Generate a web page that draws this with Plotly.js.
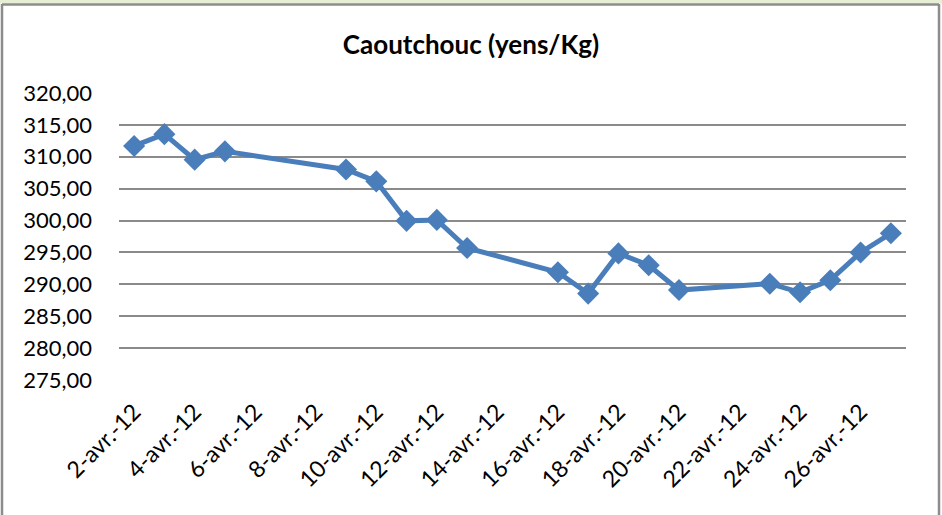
<!DOCTYPE html>
<html>
<head>
<meta charset="utf-8">
<script src="https://cdn.plot.ly/plotly-3.0.1.min.js"></script>
<style>
  html, body { margin: 0; padding: 0; background: #ffffff; }
  #chart { width: 942px; height: 515px; }
</style>
</head>
<body>
<div id="chart"></div>
<script>
// Data
const dates = [
  '2012-04-02', '2012-04-03', '2012-04-04', '2012-04-05',
  '2012-04-09', '2012-04-10', '2012-04-11', '2012-04-12', '2012-04-13',
  '2012-04-16', '2012-04-17', '2012-04-18', '2012-04-19', '2012-04-20',
  '2012-04-23', '2012-04-24', '2012-04-25', '2012-04-26', '2012-04-27'
];
const prices = [
  311.70, 313.55, 309.55, 310.85,
  308.00, 306.15, 299.95, 300.10, 295.70,
  291.90, 288.55, 294.85, 293.00, 289.10,
  290.10, 288.75, 290.65, 295.00, 298.00
];
const xTickVals = [
  '2012-04-02', '2012-04-04', '2012-04-06', '2012-04-08', '2012-04-10',
  '2012-04-12', '2012-04-14', '2012-04-16', '2012-04-18', '2012-04-20',
  '2012-04-22', '2012-04-24', '2012-04-26'
];
const xTickText = [
  '2-avr.-12', '4-avr.-12', '6-avr.-12', '8-avr.-12', '10-avr.-12',
  '12-avr.-12', '14-avr.-12', '16-avr.-12', '18-avr.-12', '20-avr.-12',
  '22-avr.-12', '24-avr.-12', '26-avr.-12'
];
const yTickVals = [275, 280, 285, 290, 295, 300, 305, 310, 315, 320];
const titleText = 'Caoutchouc (yens/Kg)';

// Layout geometry (pixels)
const W = 942, H = 515;
const L = 119, R = 906, T = 93, B = 380;
const px = v => (v - L) / (R - L);
const py = v => (B - v) / (B - T);

const fontFam = 'Lato, "Open Sans", sans-serif';

const trace = {
  x: dates,
  y: prices,
  type: 'scatter',
  mode: 'lines+markers',
  line: { color: '#4a7ebb', width: 5 },
  marker: { symbol: 'diamond', size: 17, color: '#4a7ebb' },
  hoverinfo: 'x+y'
};

const layout = {
  width: W, height: H,
  margin: { l: L, r: W - R, t: T, b: H - B },
  paper_bgcolor: '#ffffff',
  plot_bgcolor: '#ffffff',
  showlegend: false,
  separators: ', ',
  title: {
    text: '<b>' + titleText + '</b>',
    font: { family: fontFam, size: 26, color: '#000000' },
    x: 471 / W, xanchor: 'center',
    y: 1 - 45 / H, yanchor: 'middle'
  },
  xaxis: {
    type: 'date',
    range: ['2012-04-01 12:00', '2012-04-27 12:00'],
    tickvals: xTickVals,
    ticktext: xTickText,
    tickangle: -45,
    tickfont: { family: fontFam, size: 23, color: '#000000' },
    showgrid: false,
    zeroline: false,
    showline: false,
    ticks: '',
    ticklabelstandoff: 13,
    fixedrange: true
  },
  yaxis: {
    range: [275, 320],
    tickvals: yTickVals,
    tickformat: '.2f',
    tickfont: { family: fontFam, size: 22, color: '#000000' },
    showgrid: true,
    gridcolor: '#8a8a8a',
    gridwidth: 2,
    zeroline: false,
    showline: false,
    ticks: '',
    ticklabelstandoff: 26,
    fixedrange: true
  },
  shapes: [
    { type: 'rect', xref: 'paper', yref: 'paper', layer: 'above',
      x0: px(0), x1: px(W), y0: py(0), y1: py(3.5),
      fillcolor: '#e6eed6', line: { width: 0 } },
    { type: 'line', xref: 'paper', yref: 'paper',
      x0: px(2), x1: px(939), y0: py(4.5), y1: py(4.5),
      line: { color: '#8c8c8c', width: 2.5 } },
    { type: 'line', xref: 'paper', yref: 'paper',
      x0: px(2), x1: px(2), y0: py(4), y1: py(H + 5),
      line: { color: '#8c8c8c', width: 2.5 } },
    { type: 'line', xref: 'paper', yref: 'paper',
      x0: px(939), x1: px(939), y0: py(4), y1: py(H + 5),
      line: { color: '#8c8c8c', width: 2.5 } }
  ]
};

Plotly.newPlot('chart', [trace], layout, { displayModeBar: false, staticPlot: true });
</script>
</body>
</html>
